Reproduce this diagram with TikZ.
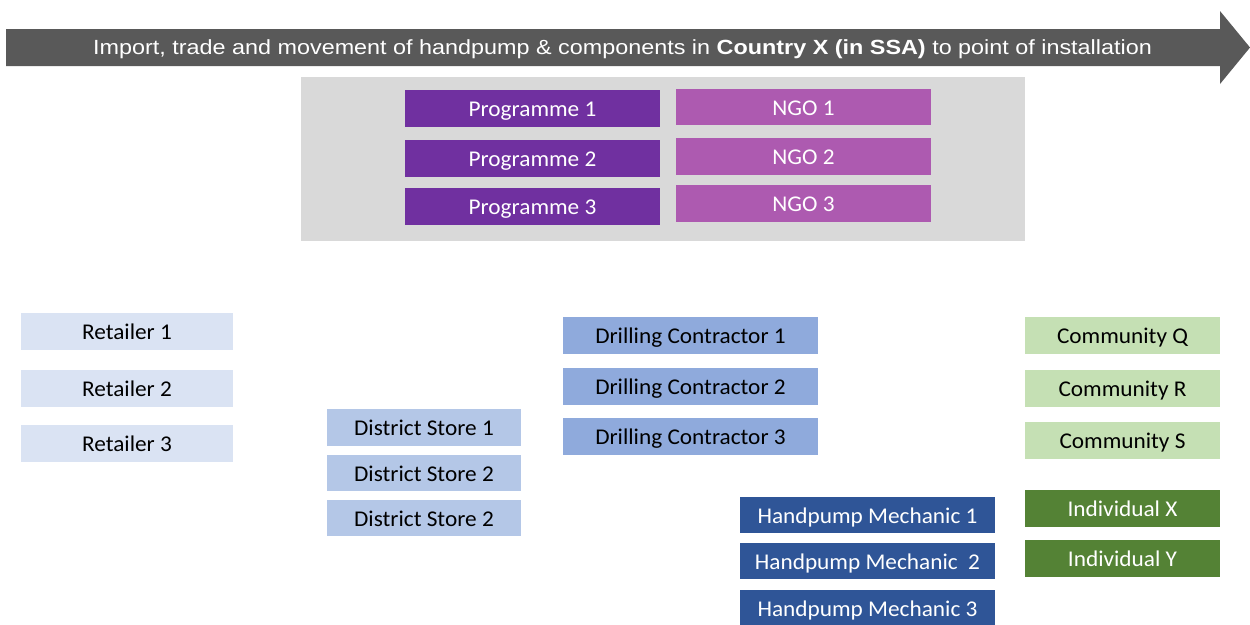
\documentclass[tikz,border=0pt]{standalone}
\usepackage{fontspec}
\setmainfont{Carlito}
\newfontfamily\arialf{Liberation Sans}
\definecolor{arrowgray}{HTML}{595959}
\definecolor{panelgray}{HTML}{D9D9D9}
\definecolor{progpurple}{HTML}{7030A0}
\definecolor{ngopurple}{HTML}{AD5AB0}
\definecolor{retblue}{HTML}{DAE3F3}
\definecolor{distblue}{HTML}{B4C7E7}
\definecolor{drillblue}{HTML}{8FAADC}
\definecolor{mechblue}{HTML}{2F5597}
\definecolor{commgreen}{HTML}{C5E0B4}
\definecolor{indgreen}{HTML}{548235}
\tikzset{
  bx/.style={draw=none, inner sep=0pt, font=\fontsize{22.5}{27}\selectfont},
  darkbx/.style={bx, text=white},
  lightbx/.style={bx, text=black},
}
\newcommand{\mybox}[8]{% name, x1, y1, x2, y2, style, fill, text
  \node[#6, fill=#7, minimum width={(#4-#2)*1pt}, minimum height={(#5-#3)*1pt}] (#1) at ({(#2+#4)/2},{(#3+#5)/2}) {\raisebox{-8.3pt}[0pt][0pt]{\scalebox{1.035}[1]{#8}}};}
\begin{document}
\begin{tikzpicture}[x=1pt,y=-1pt]
\useasboundingbox (0,0) rectangle (1250,624);
% big arrow
\fill[arrowgray] (6,29) -- (1220,29) -- (1220,11) -- (1250,47.5) -- (1220,84) -- (1220,66) -- (6,66) -- cycle;
\node[text=white, font=\arialf\fontsize{20.5}{25}\selectfont, inner sep=0pt] (title) at (622.5,47.5)
  {\raisebox{-6.8pt}[0pt][0pt]{\scalebox{1.14}[1]{Import, trade and movement of handpump \& components in \textbf{Country X (in SSA)} to point of installation}}};
% panel
\node[fill=panelgray, inner sep=0pt, minimum width=724pt, minimum height=164pt] (panel) at (663,159) {};
\mybox{p1}{405}{90}{660}{127}{darkbx}{progpurple}{Programme 1}
\mybox{p2}{405}{140}{660}{177}{darkbx}{progpurple}{Programme 2}
\mybox{p3}{405}{188}{660}{225}{darkbx}{progpurple}{Programme 3}
\mybox{n1}{676}{89}{931}{125}{darkbx}{ngopurple}{NGO 1}
\mybox{n2}{676}{138}{931}{175}{darkbx}{ngopurple}{NGO 2}
\mybox{n3}{676}{185}{931}{222}{darkbx}{ngopurple}{NGO 3}
% retailers
\mybox{r1}{21}{313}{233}{350}{lightbx}{retblue}{Retailer 1}
\mybox{r2}{21}{370}{233}{407}{lightbx}{retblue}{Retailer 2}
\mybox{r3}{21}{425}{233}{462}{lightbx}{retblue}{Retailer 3}
% district stores
\mybox{d1}{327}{409}{521}{446}{lightbx}{distblue}{District Store 1}
\mybox{d2}{327}{455}{521}{491}{lightbx}{distblue}{District Store 2}
\mybox{d3}{327}{500}{521}{536}{lightbx}{distblue}{District Store 2}
% drilling contractors
\mybox{c1}{563}{317}{818}{354}{lightbx}{drillblue}{Drilling Contractor 1}
\mybox{c2}{563}{368}{818}{405}{lightbx}{drillblue}{Drilling Contractor 2}
\mybox{c3}{563}{418}{818}{455}{lightbx}{drillblue}{Drilling Contractor 3}
% mechanics
\mybox{m1}{740}{497}{995}{533}{darkbx}{mechblue}{Handpump Mechanic 1}
\mybox{m2}{740}{543}{995}{579}{darkbx}{mechblue}{Handpump Mechanic\ \ 2}
\mybox{m3}{740}{590}{995}{626}{darkbx}{mechblue}{Handpump Mechanic 3}
% communities
\mybox{q}{1025}{317}{1220}{354}{lightbx}{commgreen}{Community Q}
\mybox{rr}{1025}{370}{1220}{407}{lightbx}{commgreen}{Community R}
\mybox{s}{1025}{422}{1220}{459}{lightbx}{commgreen}{Community S}
% individuals
\mybox{ix}{1025}{490}{1220}{527}{darkbx}{indgreen}{Individual X}
\mybox{iy}{1025}{540}{1220}{577}{darkbx}{indgreen}{Individual Y}
\end{tikzpicture}
\end{document}
